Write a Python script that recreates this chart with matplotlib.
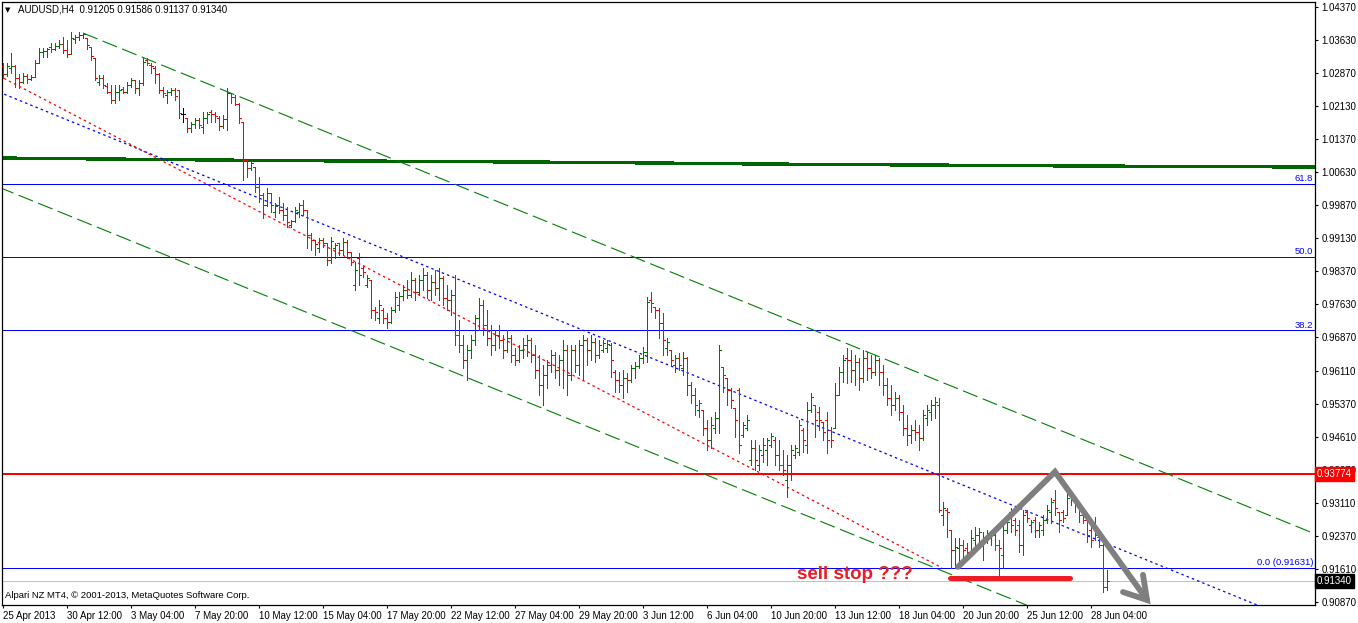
import numpy as np
import matplotlib
matplotlib.use('Agg')
from matplotlib import pyplot as plt
from matplotlib.collections import LineCollection

plt.rcParams['font.family'] = ['Liberation Sans', 'DejaVu Sans']

symbol = 'AUDUSD,H4'
last_ohlc = [0.91205, 0.91586, 0.91137, 0.91340]

# H4 bars, 25 Apr 2013 20:00 .. 28 Jun 2013
bar_open = [
    1.0303, 1.0285, 1.0299, 1.0303, 1.0276, 1.0267, 1.0281, 1.0274, 1.0278, 1.0310,
    1.0335, 1.0337, 1.0346, 1.0342, 1.0349, 1.0353, 1.0340, 1.0330, 1.0364, 1.0369,
    1.0374, 1.0367, 1.0346, 1.0321, 1.0267, 1.0276, 1.0258, 1.0244, 1.0226, 1.0244,
    1.0251, 1.0244, 1.0260, 1.0271, 1.0253, 1.0265, 1.0317, 1.0305, 1.0299, 1.0285,
    1.0249, 1.0237, 1.0244, 1.0249, 1.0249, 1.0194, 1.0185, 1.0162, 1.0172, 1.0181,
    1.0165, 1.0185, 1.0199, 1.0194, 1.0185, 1.0167, 1.0183, 1.0242, 1.0233, 1.0217,
    1.0176, 1.0090, 1.0072, 1.0074, 1.0028, 1.0010, 0.9988, 1.0015, 0.9972, 0.9988,
    0.9976, 0.9965, 0.9942, 0.9951, 0.9972, 0.9988, 0.9976, 0.9920, 0.9908, 0.9890,
    0.9908, 0.9901, 0.9863, 0.9890, 0.9901, 0.9886, 0.9904, 0.9881, 0.9806, 0.9867,
    0.9845, 0.9806, 0.9817, 0.9749, 0.9731, 0.9749, 0.9731, 0.9722, 0.9749, 0.9761,
    0.9781, 0.9795, 0.9783, 0.9817, 0.9790, 0.9817, 0.9829, 0.9795, 0.9813, 0.9799,
    0.9822, 0.9777, 0.9772, 0.9783, 0.9693, 0.9670, 0.9636, 0.9659, 0.9681, 0.9731,
    0.9761, 0.9715, 0.9686, 0.9670, 0.9693, 0.9681, 0.9659, 0.9686, 0.9647, 0.9636,
    0.9659, 0.9670, 0.9681, 0.9647, 0.9613, 0.9579, 0.9602, 0.9624, 0.9647, 0.9613,
    0.9636, 0.9659, 0.9602, 0.9659, 0.9624, 0.9670, 0.9681, 0.9659, 0.9677, 0.9647,
    0.9659, 0.9663, 0.9670, 0.9609, 0.9590, 0.9579, 0.9595, 0.9590, 0.9618, 0.9622,
    0.9640, 0.9654, 0.9772, 0.9756, 0.9749, 0.9720, 0.9663, 0.9659, 0.9624, 0.9640,
    0.9618, 0.9640, 0.9579, 0.9556, 0.9522, 0.9522, 0.9481, 0.9454, 0.9481, 0.9504,
    0.9620, 0.9595, 0.9568, 0.9527, 0.9568, 0.9466, 0.9481, 0.9409, 0.9436, 0.9397,
    0.9420, 0.9432, 0.9443, 0.9454, 0.9420, 0.9397, 0.9363, 0.9397, 0.9420, 0.9427,
    0.9477, 0.9443, 0.9522, 0.9534, 0.9518, 0.9495, 0.9500, 0.9477, 0.9481, 0.9556,
    0.9609, 0.9640, 0.9636, 0.9613, 0.9631, 0.9595, 0.9640, 0.9618, 0.9609, 0.9636,
    0.9609, 0.9579, 0.9550, 0.9534, 0.9550, 0.9518, 0.9481, 0.9466, 0.9477, 0.9472,
    0.9459, 0.9504, 0.9518, 0.9534, 0.9534, 0.9284, 0.9295, 0.9250, 0.9205, 0.9209,
    0.9216, 0.9209, 0.9200, 0.9227, 0.9239, 0.9216, 0.9232, 0.9232, 0.9239, 0.9216,
    0.9193, 0.9250, 0.9291, 0.9273, 0.9261, 0.9216, 0.9291, 0.9261, 0.9273, 0.9250,
    0.9250, 0.9273, 0.9291, 0.9318, 0.9291, 0.9291, 0.9284, 0.9329, 0.9318, 0.9302,
    0.9284, 0.9273, 0.9250, 0.9261, 0.9234, 0.9216, 0.91205,
]
bar_high = [
    1.0310, 1.0310, 1.0333, 1.0305, 1.0285, 1.0287, 1.0285, 1.0283, 1.0317, 1.0344,
    1.0344, 1.0344, 1.0355, 1.0355, 1.0362, 1.0369, 1.0362, 1.0380, 1.0374, 1.0380,
    1.0378, 1.0367, 1.0346, 1.0321, 1.0283, 1.0283, 1.0265, 1.0260, 1.0260, 1.0260,
    1.0256, 1.0267, 1.0276, 1.0271, 1.0271, 1.0321, 1.0321, 1.0310, 1.0303, 1.0287,
    1.0256, 1.0249, 1.0253, 1.0253, 1.0249, 1.0208, 1.0185, 1.0176, 1.0185, 1.0185,
    1.0199, 1.0199, 1.0203, 1.0199, 1.0190, 1.0192, 1.0253, 1.0242, 1.0237, 1.0219,
    1.0176, 1.0090, 1.0090, 1.0074, 1.0051, 1.0015, 1.0026, 1.0015, 0.9992, 1.0006,
    0.9992, 0.9983, 0.9954, 0.9983, 0.9992, 0.9999, 0.9976, 0.9924, 0.9908, 0.9913,
    0.9913, 0.9901, 0.9915, 0.9901, 0.9901, 0.9913, 0.9908, 0.9881, 0.9858, 0.9879,
    0.9851, 0.9829, 0.9817, 0.9756, 0.9772, 0.9754, 0.9742, 0.9756, 0.9790, 0.9790,
    0.9806, 0.9817, 0.9836, 0.9822, 0.9829, 0.9845, 0.9836, 0.9829, 0.9840, 0.9845,
    0.9827, 0.9806, 0.9795, 0.9829, 0.9727, 0.9693, 0.9670, 0.9693, 0.9738, 0.9777,
    0.9772, 0.9749, 0.9715, 0.9704, 0.9715, 0.9693, 0.9704, 0.9693, 0.9663, 0.9670,
    0.9686, 0.9693, 0.9686, 0.9670, 0.9647, 0.9624, 0.9636, 0.9659, 0.9654, 0.9647,
    0.9681, 0.9670, 0.9670, 0.9670, 0.9681, 0.9693, 0.9686, 0.9693, 0.9686, 0.9681,
    0.9681, 0.9681, 0.9674, 0.9613, 0.9609, 0.9613, 0.9606, 0.9624, 0.9631, 0.9647,
    0.9665, 0.9779, 0.9790, 0.9756, 0.9754, 0.9742, 0.9686, 0.9659, 0.9647, 0.9652,
    0.9654, 0.9643, 0.9586, 0.9572, 0.9545, 0.9522, 0.9500, 0.9506, 0.9518, 0.9670,
    0.9620, 0.9595, 0.9572, 0.9527, 0.9572, 0.9495, 0.9511, 0.9454, 0.9454, 0.9443,
    0.9459, 0.9459, 0.9470, 0.9461, 0.9454, 0.9432, 0.9420, 0.9443, 0.9443, 0.9500,
    0.9481, 0.9540, 0.9561, 0.9534, 0.9529, 0.9495, 0.9518, 0.9484, 0.9584, 0.9620,
    0.9647, 0.9663, 0.9659, 0.9647, 0.9640, 0.9659, 0.9654, 0.9647, 0.9647, 0.9640,
    0.9624, 0.9595, 0.9579, 0.9563, 0.9556, 0.9534, 0.9511, 0.9488, 0.9500, 0.9488,
    0.9522, 0.9534, 0.9545, 0.9552, 0.9550, 0.9314, 0.9300, 0.9250, 0.9232, 0.9232,
    0.9227, 0.9220, 0.9250, 0.9257, 0.9254, 0.9245, 0.9250, 0.9243, 0.9243, 0.9227,
    0.9266, 0.9273, 0.9300, 0.9277, 0.9273, 0.9295, 0.9295, 0.9273, 0.9279, 0.9268,
    0.9284, 0.9307, 0.9322, 0.9341, 0.9291, 0.9295, 0.9334, 0.9329, 0.9318, 0.9302,
    0.9291, 0.9273, 0.9273, 0.9279, 0.9234, 0.9220, 0.91586,
]
bar_low = [
    1.0276, 1.0281, 1.0287, 1.0256, 1.0253, 1.0265, 1.0265, 1.0271, 1.0278, 1.0310,
    1.0324, 1.0324, 1.0335, 1.0340, 1.0344, 1.0333, 1.0324, 1.0330, 1.0355, 1.0362,
    1.0367, 1.0342, 1.0317, 1.0271, 1.0260, 1.0253, 1.0242, 1.0219, 1.0219, 1.0226,
    1.0242, 1.0242, 1.0256, 1.0242, 1.0237, 1.0260, 1.0305, 1.0287, 1.0265, 1.0242,
    1.0233, 1.0219, 1.0237, 1.0226, 1.0185, 1.0176, 1.0153, 1.0153, 1.0162, 1.0162,
    1.0151, 1.0174, 1.0176, 1.0176, 1.0158, 1.0162, 1.0158, 1.0219, 1.0215, 1.0174,
    1.0044, 1.0051, 1.0067, 1.0017, 0.9994, 0.9958, 0.9985, 0.9972, 0.9960, 0.9970,
    0.9954, 0.9938, 0.9938, 0.9949, 0.9960, 0.9965, 0.9890, 0.9886, 0.9874, 0.9881,
    0.9892, 0.9851, 0.9856, 0.9867, 0.9874, 0.9874, 0.9867, 0.9851, 0.9795, 0.9806,
    0.9825, 0.9801, 0.9731, 0.9727, 0.9720, 0.9720, 0.9708, 0.9720, 0.9745, 0.9749,
    0.9772, 0.9777, 0.9779, 0.9772, 0.9783, 0.9795, 0.9777, 0.9772, 0.9783, 0.9772,
    0.9761, 0.9749, 0.9738, 0.9670, 0.9654, 0.9618, 0.9590, 0.9640, 0.9670, 0.9704,
    0.9693, 0.9670, 0.9647, 0.9659, 0.9663, 0.9640, 0.9654, 0.9631, 0.9624, 0.9631,
    0.9640, 0.9645, 0.9631, 0.9595, 0.9556, 0.9534, 0.9572, 0.9609, 0.9595, 0.9579,
    0.9572, 0.9556, 0.9590, 0.9609, 0.9602, 0.9590, 0.9624, 0.9636, 0.9631, 0.9640,
    0.9654, 0.9654, 0.9597, 0.9563, 0.9563, 0.9550, 0.9563, 0.9586, 0.9595, 0.9618,
    0.9629, 0.9631, 0.9745, 0.9731, 0.9686, 0.9647, 0.9647, 0.9624, 0.9609, 0.9613,
    0.9602, 0.9556, 0.9538, 0.9511, 0.9506, 0.9466, 0.9432, 0.9436, 0.9470, 0.9470,
    0.9563, 0.9534, 0.9527, 0.9461, 0.9425, 0.9461, 0.9477, 0.9397, 0.9386, 0.9386,
    0.9404, 0.9397, 0.9438, 0.9397, 0.9386, 0.9375, 0.9325, 0.9363, 0.9413, 0.9420,
    0.9427, 0.9425, 0.9518, 0.9461, 0.9477, 0.9454, 0.9425, 0.9438, 0.9481, 0.9556,
    0.9586, 0.9584, 0.9586, 0.9579, 0.9568, 0.9586, 0.9590, 0.9595, 0.9602, 0.9579,
    0.9556, 0.9534, 0.9511, 0.9522, 0.9500, 0.9466, 0.9443, 0.9447, 0.9454, 0.9432,
    0.9454, 0.9488, 0.9500, 0.9504, 0.9291, 0.9261, 0.9234, 0.9164, 0.9164, 0.9177,
    0.9186, 0.9193, 0.9198, 0.9205, 0.9220, 0.9182, 0.9220, 0.9216, 0.9205, 0.9143,
    0.9164, 0.9243, 0.9245, 0.9239, 0.9200, 0.9193, 0.9268, 0.9245, 0.9234, 0.9234,
    0.9239, 0.9266, 0.9266, 0.9284, 0.9245, 0.9268, 0.9284, 0.9307, 0.9291, 0.9268,
    0.9266, 0.9223, 0.9211, 0.9227, 0.9211, 0.9109, 0.91137,
]
bar_close = [
    1.0285, 1.0303, 1.0303, 1.0276, 1.0267, 1.0281, 1.0274, 1.0278, 1.0310, 1.0335,
    1.0337, 1.0342, 1.0342, 1.0349, 1.0353, 1.0340, 1.0330, 1.0367, 1.0369, 1.0374,
    1.0376, 1.0351, 1.0326, 1.0276, 1.0276, 1.0260, 1.0244, 1.0226, 1.0244, 1.0249,
    1.0244, 1.0260, 1.0271, 1.0253, 1.0265, 1.0312, 1.0310, 1.0303, 1.0285, 1.0249,
    1.0242, 1.0244, 1.0249, 1.0235, 1.0196, 1.0194, 1.0162, 1.0172, 1.0181, 1.0169,
    1.0185, 1.0194, 1.0194, 1.0190, 1.0167, 1.0183, 1.0242, 1.0233, 1.0217, 1.0185,
    1.0090, 1.0072, 1.0083, 1.0028, 1.0010, 0.9988, 1.0015, 0.9988, 0.9985, 0.9976,
    0.9965, 0.9949, 0.9951, 0.9976, 0.9988, 0.9976, 0.9920, 0.9908, 0.9899, 0.9908,
    0.9901, 0.9863, 0.9906, 0.9897, 0.9886, 0.9904, 0.9881, 0.9858, 0.9840, 0.9829,
    0.9836, 0.9822, 0.9749, 0.9745, 0.9761, 0.9731, 0.9722, 0.9749, 0.9779, 0.9781,
    0.9795, 0.9783, 0.9817, 0.9790, 0.9817, 0.9829, 0.9795, 0.9813, 0.9799, 0.9822,
    0.9777, 0.9772, 0.9783, 0.9693, 0.9670, 0.9636, 0.9659, 0.9681, 0.9731, 0.9761,
    0.9715, 0.9686, 0.9670, 0.9693, 0.9681, 0.9659, 0.9686, 0.9647, 0.9636, 0.9659,
    0.9670, 0.9681, 0.9647, 0.9613, 0.9579, 0.9602, 0.9624, 0.9647, 0.9613, 0.9636,
    0.9659, 0.9602, 0.9659, 0.9624, 0.9670, 0.9681, 0.9659, 0.9677, 0.9647, 0.9670,
    0.9674, 0.9672, 0.9636, 0.9590, 0.9579, 0.9595, 0.9590, 0.9618, 0.9622, 0.9640,
    0.9654, 0.9767, 0.9765, 0.9749, 0.9720, 0.9681, 0.9677, 0.9636, 0.9640, 0.9624,
    0.9640, 0.9579, 0.9556, 0.9534, 0.9538, 0.9481, 0.9454, 0.9488, 0.9504, 0.9659,
    0.9602, 0.9568, 0.9545, 0.9500, 0.9443, 0.9488, 0.9500, 0.9436, 0.9409, 0.9432,
    0.9443, 0.9454, 0.9463, 0.9420, 0.9397, 0.9386, 0.9397, 0.9432, 0.9436, 0.9488,
    0.9454, 0.9522, 0.9552, 0.9500, 0.9500, 0.9472, 0.9454, 0.9454, 0.9556, 0.9609,
    0.9636, 0.9636, 0.9613, 0.9631, 0.9595, 0.9640, 0.9618, 0.9609, 0.9636, 0.9609,
    0.9579, 0.9550, 0.9534, 0.9550, 0.9518, 0.9481, 0.9466, 0.9477, 0.9472, 0.9459,
    0.9511, 0.9522, 0.9534, 0.9540, 0.9295, 0.9300, 0.9291, 0.9205, 0.9211, 0.9216,
    0.9205, 0.9200, 0.9232, 0.9239, 0.9245, 0.9232, 0.9243, 0.9239, 0.9216, 0.9209,
    0.9250, 0.9268, 0.9261, 0.9250, 0.9216, 0.9284, 0.9277, 0.9268, 0.9250, 0.9261,
    0.9273, 0.9295, 0.9314, 0.9300, 0.9273, 0.9277, 0.9322, 0.9318, 0.9307, 0.9284,
    0.9273, 0.9239, 0.9227, 0.9239, 0.9216, 0.9121, 0.91340,
]

date_labels = ['25 Apr 2013', '30 Apr 12:00', '3 May 04:00', '7 May 20:00', '10 May 12:00',
               '15 May 04:00', '17 May 20:00', '22 May 12:00', '27 May 04:00', '29 May 20:00',
               '3 Jun 12:00', '6 Jun 04:00', '10 Jun 20:00', '13 Jun 12:00', '18 Jun 04:00',
               '20 Jun 20:00', '25 Jun 12:00', '28 Jun 04:00']
bars_per_label = 16

price_ticks = [1.0437, 1.0363, 1.0287, 1.0213, 1.0137, 1.0063, 0.9987, 0.9913, 0.9837, 0.9763,
               0.9687, 0.9611, 0.9537, 0.9461, 0.9387, 0.9311, 0.9237, 0.9161, 0.9087]

# slow moving average (dark green)
ma_bars = [-1, 40, 66, 110, 150, 190, 230, 270, 328]
ma_values = [1.00943, 1.00909, 1.00887, 1.00864, 1.00841, 1.00807, 1.00784, 1.00762, 1.00739]

# fibo retracement
fib_low = 0.91631
fib_high = 1.05761
fib_levels = [0.0, 38.2, 50.0, 61.8]

resistance = 0.93774
bid = last_ohlc[3]

# channel + trend lines (anchor bar, price)
chan_top_bars, chan_top = [20, 328], [1.0378, 0.9241]
chan_bot_bars, chan_bot = [-1, 328], [1.0028, 0.8813]
chan_mid_bars, chan_mid = [-1, 328], [1.0244, 0.9026]
trend_bars, trend_prices = [-1, 234.75], [1.0281, 0.9164]

# hand drawn annotations
arrow_bars = [238.75, 263, 286]
arrow_prices = [0.9166, 0.9382, 0.9091]
head_bars = [285, 286, 280]
head_prices = [0.9148, 0.9091, 0.9109]
stop_bars, stop_price = [236.75, 266.75], 0.9141

fig = plt.figure(figsize=(13.58, 6.23), dpi=100)
ax = fig.add_axes([2 / 1358, 1 - 605 / 623, 1313 / 1358, 603 / 623])
ax.set_xlim(-0.25, 328)
ax.set_ylim(0.90796, 1.04485)

# horizontal levels
for lvl in fib_levels:
    p = fib_low + (fib_high - fib_low) * lvl / 100
    ax.axhline(p, color='#0000ff', lw=0.5, antialiased=False, zorder=1)
    txt = '%.1f' % lvl if lvl else '0.0 (%.5f)' % fib_low
    ax.text(0.9985, p + 0.0002, txt, transform=ax.get_yaxis_transform(), ha='right', va='bottom',
            color='#0000ff', fontsize=6.8)
ax.plot(ma_bars, ma_values, color='#006400', lw=1.7, antialiased=False, zorder=2)
ax.axhline(resistance, color='#ff0000', lw=1.2, antialiased=False, zorder=2)
ax.axhline(bid, color='#c0c0c0', lw=0.5, antialiased=False, zorder=1)

ax.plot(chan_top_bars, chan_top, color='#008000', lw=0.8, ls=(0, (14, 5)), zorder=2)
ax.plot(chan_bot_bars, chan_bot, color='#008000', lw=0.8, ls=(0, (14, 5)), zorder=2)
ax.plot(chan_mid_bars, chan_mid, color='#0000ff', lw=0.9, ls=(0, (2, 2.5)), zorder=2)
ax.plot(trend_bars, trend_prices, color='#ff0000', lw=0.9, ls=(0, (2, 2.5)), zorder=2)

# OHLC bars
segs, cols = [], []
for i in range(len(bar_close)):
    o, h, l, c = bar_open[i], bar_high[i], bar_low[i], bar_close[i]
    col = '#007800' if c > o else ('#ff0000' if c < o else 'black')
    segs += [[(i, l), (i, h)], [(i - 0.4, o), (i, o)], [(i, c), (i + 0.4, c)]]
    cols += [col] * 3
ax.add_collection(LineCollection(segs, colors=cols, linewidths=0.55, antialiaseds=False, zorder=3))

# paint annotations
ax.plot(stop_bars, [stop_price] * 2, color='#ed1c24', lw=3.6, solid_capstyle='round', zorder=4)
ax.plot(arrow_bars, arrow_prices, color='#7f7f7f', lw=4.2, solid_joinstyle='miter',
        solid_capstyle='round', zorder=5)
ax.plot(head_bars, head_prices, color='#7f7f7f', lw=4.2, solid_joinstyle='miter',
        solid_capstyle='round', zorder=5)
ax.text(198.5, 0.91387, 'sell stop ???', color='#ed1c24', fontsize=13.5, fontweight='bold',
        ha='left', va='baseline', zorder=6)

# axes look
for s in ax.spines.values():
    s.set_color('black')
    s.set_linewidth(0.9)
ax.yaxis.tick_right()
ax.set_yticks(price_ticks)
ax.set_yticklabels(['%.5f' % t for t in price_ticks])
ax.set_xticks(np.arange(len(date_labels)) * bars_per_label)
ax.set_xticklabels(date_labels, ha='left')
ax.tick_params(axis='y', length=2.5, width=0.8, pad=2, labelsize=7)
ax.tick_params(axis='x', length=2.5, width=0.8, pad=1.5, labelsize=7)

ax.text(1.0015, resistance, '%.5f' % resistance, transform=ax.get_yaxis_transform(), ha='left',
        va='center', color='white', fontsize=7, zorder=10, clip_on=False,
        bbox=dict(boxstyle='square,pad=0.2', fc='#ff0000', ec='#ff0000'))
ax.text(1.0015, bid, '%.5f' % bid, transform=ax.get_yaxis_transform(), ha='left',
        va='center', color='white', fontsize=7, zorder=10, clip_on=False,
        bbox=dict(boxstyle='square,pad=0.2', fc='black', ec='black'))

fig.text(5 / 1358, 1 - 10 / 623, '\u25bc', fontsize=5, va='center', ha='left',
         family=['DejaVu Sans'])
fig.text(18 / 1358, 1 - 10 / 623, '%s  %.5f %.5f %.5f %.5f' % (symbol, *last_ohlc),
         fontsize=7, va='center', ha='left')
fig.text(5 / 1358, 1 - 595 / 623, 'Alpari NZ MT4, \u00a9 2001-2013, MetaQuotes Software Corp.',
         fontsize=6.8, va='center', ha='left')

plt.savefig('out.png', dpi=100)
